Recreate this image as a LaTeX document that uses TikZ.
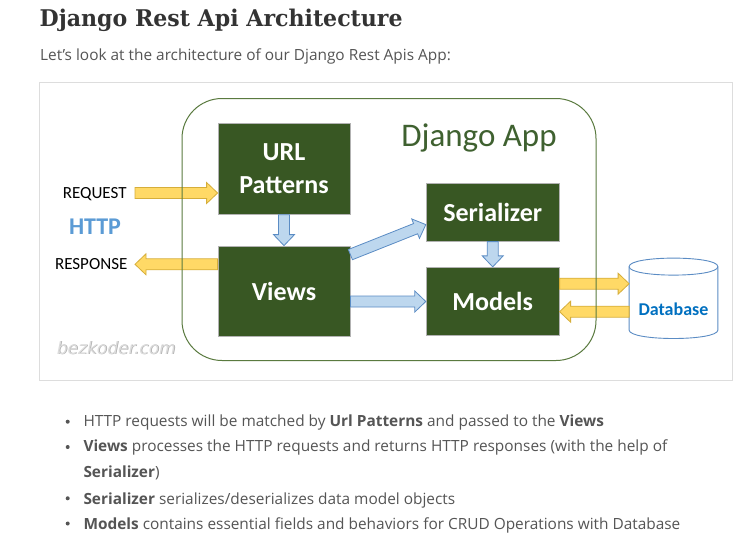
\documentclass[tikz,border=0pt]{standalone}
\usepackage{fontspec}
\setmainfont{Open Sans}
\newfontfamily\calfont{Carlito}
\newfontfamily\slabfont{DejaVu Serif}
\newfontfamily\wmfont{DejaVu Sans}
\usetikzlibrary{calc}
\definecolor{dgreen}{HTML}{385723}
\definecolor{appgreen}{HTML}{5A7A3F}
\definecolor{apptext}{HTML}{3F6130}
\definecolor{yfill}{HTML}{FFD966}
\definecolor{ydraw}{HTML}{D6AE3A}
\definecolor{bfill}{HTML}{BDD7EE}
\definecolor{bdraw}{HTML}{5B8CC4}
\definecolor{dbblue}{HTML}{0070C0}
\definecolor{httpblue}{HTML}{5B9BD5}
\definecolor{bodygray}{HTML}{555555}
\definecolor{titlegray}{HTML}{333333}
\definecolor{framegray}{HTML}{DDDDDD}
\definecolor{wmgray}{HTML}{DCDCDC}
\definecolor{wmshadow}{HTML}{ABABAB}
\newcommand{\blockarr}[3]{%
  \coordinate (ba-s) at #2;
  \coordinate (ba-e) at #3;
  \coordinate (ba-h) at ($(ba-e)!11pt!(ba-s)$);
  \draw[#1] ($(ba-s)!5.5pt!90:(ba-e)$) -- ($(ba-h)!5.5pt!90:(ba-e)$) -- ($(ba-h)!10.5pt!90:(ba-e)$) -- (ba-e) -- ($(ba-h)!10.5pt!-90:(ba-e)$) -- ($(ba-h)!5.5pt!-90:(ba-e)$) -- ($(ba-s)!5.5pt!-90:(ba-e)$) -- cycle;}
\tikzset{
  box/.style={draw=gray!60, line width=0.8pt, fill=dgreen, text=white, font=\calfont\bfseries\fontsize{26}{33}\selectfont, inner sep=0pt, align=center},
  yarrow/.style={fill=yfill, draw=ydraw, line width=0.8pt},
  barrow/.style={fill=bfill, draw=bdraw, line width=0.8pt},
  httplabel/.style={font=\calfont\fontsize{17}{20}\selectfont, text=black, inner sep=0pt, anchor=base},
  bodytext/.style={font=\fontsize{15.4}{20}\selectfont, text=bodygray, inner sep=0pt, anchor=base west},
  dbline/.style={draw=bdraw, line width=0.9pt, fill=white},
  wmtext/.style={anchor=base west, inner sep=0pt, font=\wmfont\itshape\fontsize{17}{20}\selectfont}
}
\begin{document}
\begin{tikzpicture}[x=1pt,y=-1pt]
\useasboundingbox[fill=white] (0,0) rectangle (743,544);
% heading
\node[anchor=base west, inner sep=0pt, text=titlegray, xscale=0.96, font=\slabfont\bfseries\fontsize{23}{26}\selectfont] (title) at (39.5,26.7) {Django Rest Api Architecture};
\node[bodytext] (intro) at (40,60.7) {Let’s look at the architecture of our Django Rest Apis App:};
% frame
\draw[framegray, line width=0.8pt] (39,82) rectangle (732,380);
% boxes
\node[box, minimum width=132pt, minimum height=91pt] (url) at (284,168.8) {URL\\Patterns};
\node[box, minimum width=132pt, minimum height=90pt] (views) at (284,291) {Views};
\node[box, minimum width=133pt, minimum height=58pt] (ser) at (492.7,212.2) {Serializer};
\node[box, minimum width=133pt, minimum height=68.5pt] (models) at (492.7,301.5) {Models};
% database
\node[minimum width=88.4pt, minimum height=63pt, inner sep=0pt] (dbbox) at (673.5,298.3) {};
\draw[dbline] (dbbox.north west) -- (dbbox.south west) .. controls +(0,11.33) and +(0,11.33) .. (dbbox.south east) -- (dbbox.north east) .. controls +(0,-11.33) and +(0,-11.33) .. (dbbox.north west) -- cycle;
\draw[dbline, fill=none] (dbbox.north west) .. controls +(0,11.33) and +(0,11.33) .. (dbbox.north east);
\node[font=\calfont\bfseries\fontsize{18}{20}\selectfont, text=dbblue, inner sep=0pt] (dbtext) at (673.5,309) {Database};
% http labels
\node[httplabel] (req) at (94.7,198.3) {REQUEST};
\node[httplabel, font=\calfont\bfseries\fontsize{24}{26}\selectfont, text=httpblue] (http) at (95,234) {HTTP};
\node[httplabel] (resp) at (91.2,269.3) {RESPONSE};
% arrows
\coordinate (reqtail) at (135,193);
\coordinate (resptip) at (135,264.3);
\blockarr{yarrow}{(reqtail)}{(url.west |- reqtail)}
\blockarr{yarrow}{(views.west |- resptip)}{(resptip)}
\blockarr{barrow}{(url.south)}{(views.north)}
\blockarr{barrow}{(ser.south)}{(models.north)}
\blockarr{barrow}{($(views.north east)+(0,9)$)}{($(ser.south west)+(0,-17)$)}
\blockarr{barrow}{(views.east |- models.west)}{(models.west)}
\coordinate (mdb) at ($(models.east)+(0,-17.8)$);
\coordinate (dbm) at ($(models.east)+(0,10.2)$);
\blockarr{yarrow}{(mdb)}{(dbbox.west |- mdb)}
\blockarr{yarrow}{(dbbox.west |- dbm)}{(dbm)}
% app container
\node[draw=appgreen, line width=1pt, rounded corners=40pt, minimum width=414pt, minimum height=262pt, inner sep=0pt] (app) at (389,229.5) {};
\node[anchor=base, inner sep=0pt, text=apptext, font=\calfont\fontsize{33}{40}\selectfont] (applabel) at (479,146) {Django App};
% watermark (with its shadow)
\node[wmtext, text=wmshadow] (wmshade) at (57.5,354.8) {bezkoder.com};
\node[wmtext, text=wmgray] (wm) at (56.7,354) {bezkoder.com};
% bullets
\foreach \yy in {421.7,447,498.3,523.5} \fill[bodygray] (67.7,\yy) circle[radius=2pt];
\node[bodytext] (b1) at (83.3,426.7) {HTTP requests will be matched by \textbf{Url Patterns} and passed to the \textbf{Views}};
\node[bodytext] (b2) at (83.3,451.7) {\textbf{Views} processes the HTTP requests and returns HTTP responses (with the help of};
\node[bodytext] (b3) at (83.3,477.7) {\textbf{Serializer})};
\node[bodytext] (b4) at (83.3,504.3) {\textbf{Serializer} serializes/deserializes data model objects};
\node[bodytext] (b5) at (83.3,529.3) {\textbf{Models} contains essential fields and behaviors for CRUD Operations with Database};
\end{tikzpicture}
\end{document}
